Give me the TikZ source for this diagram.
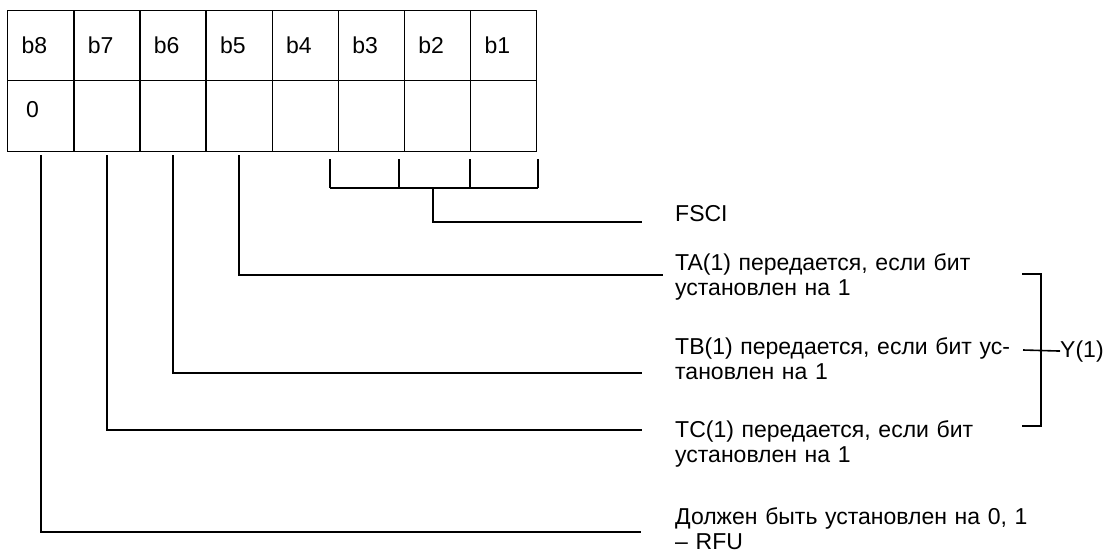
\documentclass[tikz,border=0pt]{standalone}
\usepackage{fontspec}
\setmainfont{Liberation Sans}
\usetikzlibrary{positioning}
\tikzset{
  cell/.style={draw, line width=1.4pt, anchor=north west, minimum width=66.125pt, inner xsep=14pt, text width=38.125pt, align=left},
  note/.style={anchor=base west, inner sep=0pt, text width=420pt, align=left},
  wire/.style={line width=1.6pt},
}
\begin{document}
\begin{tikzpicture}[x=1pt,y=-1pt,font=\fontsize{23}{25}\selectfont]
\useasboundingbox (0,0) rectangle (1105,554);
% the octet
\foreach \b [count=\c from 0] in {8,7,...,1} {
  \node[cell, minimum height=70pt] (h\b) at ({7+\c*66.125},10) {b\b};
  \node[cell, minimum height=71pt] (v\b) at ({7+\c*66.125},80) {};
}
\node[anchor=west, inner sep=0pt] (zero) at ([xshift=19pt,yshift=7pt]v8.west) {0};

% texts on the right
\node[note] (fsci) at (675,221) {FSCI};
\node[note] (ta) at (675,270) {TA(1) передается, если бит\\установлен на 1};
\node[note] (tb) at (675,354) {TB(1) передается, если бит ус-\\тановлен на 1};
\node[note] (tc) at (675,437) {TC(1) передается, если бит\\установлен на 1};
\node[note] (rfu) at (675,524) {Должен быть установлен на 0, 1\\– RFU};
\node[anchor=base west, inner sep=0pt] (y1) at (1060,357) {Y(1)};

\coordinate (fsci end) at (642,222);
\coordinate (ta end) at (663,275);
\coordinate (tb end) at (642,373);
\coordinate (tc end) at (642,430);
\coordinate (rfu end) at (641,532);

% bit lines
\draw[wire] ([yshift=-3pt]v5.south) |- (ta end);
\draw[wire] ([yshift=-3pt]v6.south) |- (tb end);
\draw[wire] ([yshift=-3pt]v7.south) |- (tc end);
\draw[wire] ([yshift=-3pt]v8.south) |- (rfu end);

% b4..b1 together
\foreach \x in {330,399,470,538}
  \draw[wire] (\x,159) -- (\x,188);
\draw[wire] (330,188) -- (538,188);
\coordinate (fsci top) at (433,188);
\draw[wire] (fsci top) |- (fsci end);

% Y(1) brace
\draw[wire] (1022,274) -| (1041,426) -- (1022,426);
\draw[wire] (1023,350) -- (y1.west);
\end{tikzpicture}
\end{document}
